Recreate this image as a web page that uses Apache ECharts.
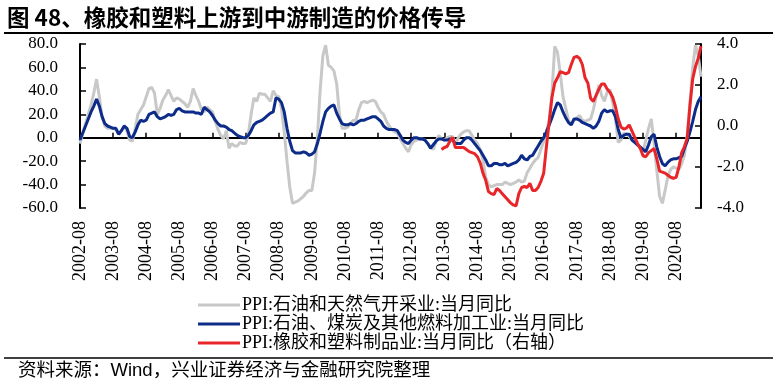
<!DOCTYPE html>
<html><head><meta charset="utf-8">
<script src="https://cdn.jsdelivr.net/npm/echarts@6/dist/echarts.min.js"></script>
<style>html,body{margin:0;padding:0;background:#fff}#c{width:783px;height:392px}</style>
</head><body><div id="c"></div>
<script>
// Monthly categories 2002-08 .. 2021-05
const firstMonth = [2002, 8];
const monthCount = 226;
const categories = [];
for (let k = 0; k < monthCount; k++) {
  const m = firstMonth[1] - 1 + k;
  const y = firstMonth[0] + Math.floor(m / 12);
  const mm = (m % 12) + 1;
  categories.push(y + '-' + (mm < 10 ? '0' + mm : mm));
}

const seriesNames = [
  'PPI:石油和天然气开采业:当月同比',
  'PPI:石油、煤炭及其他燃料加工业:当月同比',
  'PPI:橡胶和塑料制品业:当月同比（右轴）'
];

// PPI: oil & gas extraction, YoY (left axis)
const oilGas = [
-5,4,12,20,28,38,50,35,18,10,8,8,8,7,3,6,9,6,-2,-3,
8,20,24,28,35,42,43,38,20,25,32,36,41,36,31,34,33,31,29,26,
31,42,36,31,24,22,26,24,22,14,7,2,-1,6,-9,-5,-7,-7,-4,-5,
-5,3,20,34,31,38,37,37,34,31,40,36,35,25,5,-20,-42,-56,-55,-54,
-52,-50,-47,-45,-45,-30,0,40,70,79,62,60,57,46,20,8,8,9,12,15,
15,24,30,31,30,31,32,31,26,22,20,14,10,7,5,4,-1,-5,-9,-12,
-6,-3,-2,-1,-1,-2,-5,-8,-10,-3,2,-1,-2,0,1,1,-6,0,3,5,
6,6,2,-2,-5,-10,-19,-34,-40,-42,-41,-40,-40,-40,-38,-39,-40,-39,-38,-36,
-38,-37,-30,-26,-22,-19,-17,-10,-3,5,15,38,78,73,55,35,25,15,11,15,
17,19,15,14,15,16,24,35,45,36,31,39,41,30,16,-4,-2,4,3,1,
-2,-4,-6,-9,-12,-2,8,16,-5,-28,-50,-56,-45,-33,-27,-25,-26,-27,-22,-15,
2,30,60,79,70,52
];

// PPI: petroleum, coal & other fuel processing, YoY (left axis)
const refining = [
-2,4,10,16,22,27,33,27,18,12,10,9,8,8,3,6,10,8,1,0,
5,11,15,14,15,20,21,22,18,16,17,18,20,19,20,24,25,23,22,22,
22,22,21,21,20,26,24,22,19,15,12,10,10,9,7,6,4,2,1,0,
0,2,6,11,13,14,15,17,19,21,22,34,33,30,22,8,-3,-11,-13,-13,
-13,-12,-13,-15,-14,-12,-5,4,14,22,25,27,28,21,16,12,11,11,12,11,
12,14,15,15,16,17,18,18,16,14,10,8,7,7,7,6,2,-2,-4,-5,
-2,0,0,-1,-1,-2,-5,-9,-6,-3,-1,-1,-2,-2,-1,-2,-5,-5,-5,-2,
0,0,-2,-5,-8,-11,-15,-19,-24,-24,-22,-22,-23,-23,-22,-24,-23,-22,-21,-19,
-15,-18,-19,-16,-15,-11,-7,-3,0,5,11,17,24,30,28,22,17,13,11,16,
16,15,13,12,11,10,8,10,14,21,24,22,23,23,18,7,0,2,3,3,
-2,-4,-6,-8,-10,-12,-6,1,3,-8,-16,-22,-24,-21,-19,-18,-18,-17,-16,-9,
-3,5,14,24,31,35
];

// PPI: rubber & plastic products, YoY (right axis), starts 2013-07
const rubberStart = '2013-07';
const rubber = [
-1.15,-1.05,-1.0,-0.75,-0.55,-1.05,-1.05,-1.05,-1.05,-1.15,
-1.25,-1.3,-1.35,-1.5,-1.8,-2.3,-2.65,-3.2,-3.3,-3.35,
-3.05,-3.15,-3.3,-3.45,-3.6,-3.75,-3.85,-3.9,-3.3,-3.0,
-2.95,-3.0,-2.8,-3.15,-3.15,-3.0,-2.7,-2.3,-1.0,0.2,
1.4,2.1,2.35,2.65,2.6,2.55,2.6,3.0,3.35,3.4,
3.3,3.0,2.35,2.1,1.35,1.2,1.5,1.8,2.05,2.05,
1.8,1.65,1.4,0.95,0.35,-0.05,-0.15,-0.1,0.05,-0.25,
-0.55,-0.85,-1.1,-1.45,-1.5,-1.3,-1.2,-1.1,-1.6,-2.2,
-2.25,-2.3,-2.4,-2.5,-2.55,-2.5,-2.0,-1.3,-1.0,-0.6,
1.0,2.3,2.9,3.3,3.9
];

const leftAxis = { min: -60, max: 80, interval: 20 };
const rightAxis = { min: -4, max: 4, interval: 2 };

const rubberFull = categories.map(() => null);
const r0 = categories.indexOf(rubberStart);
rubber.forEach((v, k) => { rubberFull[r0 + k] = v; });

const serif = "'Liberation Serif','Noto Sans CJK SC',serif";
const sans = "'Liberation Sans','Noto Sans CJK SC',sans-serif";
const colors = ['#C8C8C8', '#0D2C8A', '#E8262A'];

const chart = echarts.init(document.getElementById('c'), null, { renderer: 'canvas' });
chart.setOption({
  backgroundColor: '#fff',
  animation: false,
  grid: { left: 80, right: 82, top: 44, bottom: 184, containLabel: false },
  graphic: [
    { type: 'text', left: 7, top: 6, style: { text: '图 48、橡胶和塑料上游到中游制造的价格传导', font: "bold 22.5px 'Noto Sans CJK SC', sans-serif", fill: '#000' } },
    { type: 'line', shape: { x1: 4, y1: 33, x2: 773, y2: 33 }, style: { stroke: '#000', lineWidth: 2 } },
    { type: 'line', shape: { x1: 4, y1: 358, x2: 773, y2: 358 }, style: { stroke: '#000', lineWidth: 1.5 } },
    { type: 'text', left: 18, top: 362, style: { text: '资料来源：Wind，兴业证券经济与金融研究院整理', font: "18.5px " + sans, fill: '#000' } }
  ],
  legend: {
    orient: 'vertical', left: 193, top: 291, itemWidth: 42, itemHeight: 3, itemGap: 1,
    icon: 'rect',
    textStyle: { fontFamily: serif, fontSize: 18, color: '#000', padding: [0, 0, 0, -3] },
    data: seriesNames
  },
  xAxis: [
    {
      type: 'category', data: categories, boundaryGap: false, position: 'bottom',
      axisLine: { show: false, onZero: false }, axisTick: { show: false },
      axisLabel: { interval: 11, rotate: 90, margin: 13, fontFamily: serif, fontSize: 18, color: '#000' },
      splitLine: { show: false }
    },
    {
      type: 'category', data: categories, boundaryGap: false, position: 'top',
      axisLine: { show: true, onZero: true, onZeroAxisIndex: 0, lineStyle: { color: '#000', width: 2 } },
      axisTick: { show: true, interval: 11, inside: false, length: 5, lineStyle: { color: '#000', width: 1.5 } },
      axisLabel: { show: false }, splitLine: { show: false }
    }
  ],
  yAxis: [
    {
      type: 'value', position: 'left', min: leftAxis.min, max: leftAxis.max, interval: leftAxis.interval,
      axisLine: { show: true, lineStyle: { color: '#000', width: 2 } },
      axisTick: { show: true, inside: true, length: 6, lineStyle: { color: '#000', width: 1.5 } },
      axisLabel: { margin: 22, fontFamily: serif, fontSize: 17, color: '#000', formatter: v => v.toFixed(1) },
      splitLine: { show: false }
    },
    {
      type: 'value', position: 'right', min: rightAxis.min, max: rightAxis.max, interval: rightAxis.interval,
      axisLine: { show: true, lineStyle: { color: '#000', width: 2 } },
      axisTick: { show: true, inside: true, length: 6, lineStyle: { color: '#000', width: 1.5 } },
      axisLabel: { margin: 16, fontFamily: serif, fontSize: 17, color: '#000', formatter: v => v.toFixed(1) },
      splitLine: { show: false }
    }
  ],
  series: [
    { name: seriesNames[0], type: 'line', data: oilGas, xAxisIndex: 0, yAxisIndex: 0, symbol: 'none',
      lineStyle: { color: colors[0], width: 3 }, itemStyle: { color: colors[0] }, z: 2 },
    { name: seriesNames[1], type: 'line', data: refining, xAxisIndex: 0, yAxisIndex: 0, symbol: 'none',
      lineStyle: { color: colors[1], width: 3 }, itemStyle: { color: colors[1] }, z: 3 },
    { name: seriesNames[2], type: 'line', data: rubberFull, xAxisIndex: 0, yAxisIndex: 1, symbol: 'none',
      lineStyle: { color: colors[2], width: 3 }, itemStyle: { color: colors[2] }, z: 4 }
  ]
});
</script></body></html>
